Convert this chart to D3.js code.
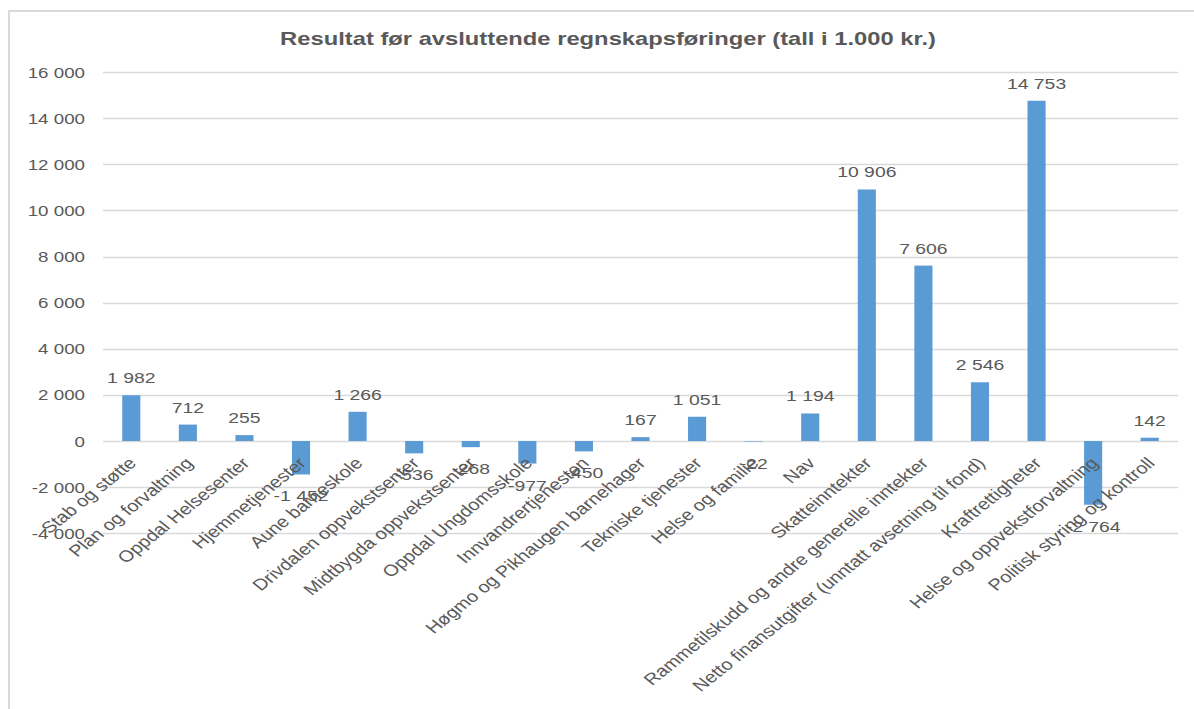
<!DOCTYPE html>
<html>
<head>
<meta charset="utf-8">
<script src="https://cdn.jsdelivr.net/npm/d3@7"></script>
<style>
  body { margin: 0; background: #fff; }
  text { font-family: "Liberation Sans", Arial, sans-serif; fill: #595959; }
</style>
</head>
<body>
<div id="chart"></div>
<script>
var categories = ["Stab og støtte", "Plan og forvaltning", "Oppdal Helsesenter", "Hjemmetjenester",
  "Aune barneskole", "Drivdalen oppvekstsenter", "Midtbygda oppvekstsenter", "Oppdal Ungdomsskole",
  "Innvandrertjenesten", "Høgmo og Pikhaugen barnehager", "Tekniske tjenester", "Helse og familie",
  "Nav", "Skatteinntekter", "Rammetilskudd  og andre generelle inntekter",
  "Netto finansutgifter (unntatt avsetning til fond)", "Kraftrettigheter",
  "Helse og oppvekstforvaltning", "Politisk styring og kontroll"];
var values = [1982, 712, 255, -1452, 1266, -536, -268, -977, -450, 167, 1051, -22,
  1194, 10906, 7606, 2546, 14753, -2764, 142];
var yTicks = [-4000, -2000, 0, 2000, 4000, 6000, 8000, 10000, 12000, 14000, 16000];
var title = "Resultat før avsluttende regnskapsføringer (tall i 1.000 kr.)";

var W = 1194, H = 709;
var margin = {top: 72, left: 103, right: 16, bottom: 176},
    width  = W - margin.left - margin.right;
var sx = 1.25; // text is drawn horizontally stretched

var nf = d3.formatLocale({decimal: ",", thousands: " ", grouping: [3], currency: ["", ""], minus: "-"}).format(",d");

var svg = d3.select("#chart").append("svg")
    .attr("width", W).attr("height", H);

// chart frame (left + top edges visible)
svg.append("path")
    .attr("d", "M9," + H + "V11H" + W)
    .attr("fill", "none").attr("stroke", "#d9d9d9").attr("stroke-width", 2);

svg.append("text")
    .attr("transform", "translate(608,45) scale(" + sx + ",1)")
    .attr("text-anchor", "middle")
    .style("font-weight", "bold").style("font-size", "19px")
    .text(title);

var g = svg.append("g").attr("transform", "translate(" + margin.left + "," + margin.top + ")");

// 0 sits at y=441, 16 000 at y=72 on the page
var x = d3.scaleBand().domain(categories).range([0, width]).padding(0);
var y = d3.scaleLinear().domain([-4000, 16000]).range([441 - margin.top + 4000 * (441 - 72) / 16000, 0]);

// gridlines
g.append("g").selectAll("line").data(yTicks).join("line")
    .attr("x1", 0).attr("x2", width)
    .attr("y1", function(d) { return Math.round(y(d)) + 0.5; })
    .attr("y2", function(d) { return Math.round(y(d)) + 0.5; })
    .attr("stroke", "#d9d9d9").attr("stroke-width", 1.3);

// y tick labels
g.append("g").selectAll("text").data(yTicks).join("text")
    .attr("transform", function(d) { return "translate(-18," + (y(d) + 5.5) + ") scale(" + sx + ",1)"; })
    .attr("text-anchor", "end")
    .style("font-size", "15px")
    .text(function(d) { return nf(d); });

var bw = x.bandwidth() * 0.32;

g.append("g").selectAll("rect").data(values).join("rect")
    .attr("x", function(d, i) { return x(categories[i]) + x.bandwidth() / 2 - bw / 2; })
    .attr("width", bw)
    .attr("y", function(d) { return y(Math.max(0, d)); })
    .attr("height", function(d) { return Math.abs(y(d) - y(0)); })
    .attr("fill", "#5b9bd5");

// data labels
g.append("g").selectAll("text").data(values).join("text")
    .attr("transform", function(d, i) {
      var cx = x(categories[i]) + x.bandwidth() / 2;
      var ty = d >= 0 ? y(d) - 12 : y(d) + 27;
      return "translate(" + cx + "," + ty + ") scale(" + sx + ",1)";
    })
    .attr("text-anchor", "middle")
    .style("font-size", "15.5px")
    .text(function(d) { return nf(d); });

// category labels
g.append("g").selectAll("text").data(categories).join("text")
    .attr("transform", function(d) {
      var cx = x(d) + x.bandwidth() / 2 - 4;
      return "translate(" + cx + "," + (y(0) + 15) + ") scale(" + sx + ",1) rotate(-45)";
    })
    .attr("text-anchor", "end")
    .attr("dy", "0.72em")
    .style("font-size", "16px")
    .text(function(d) { return d; });
</script>
</body>
</html>
